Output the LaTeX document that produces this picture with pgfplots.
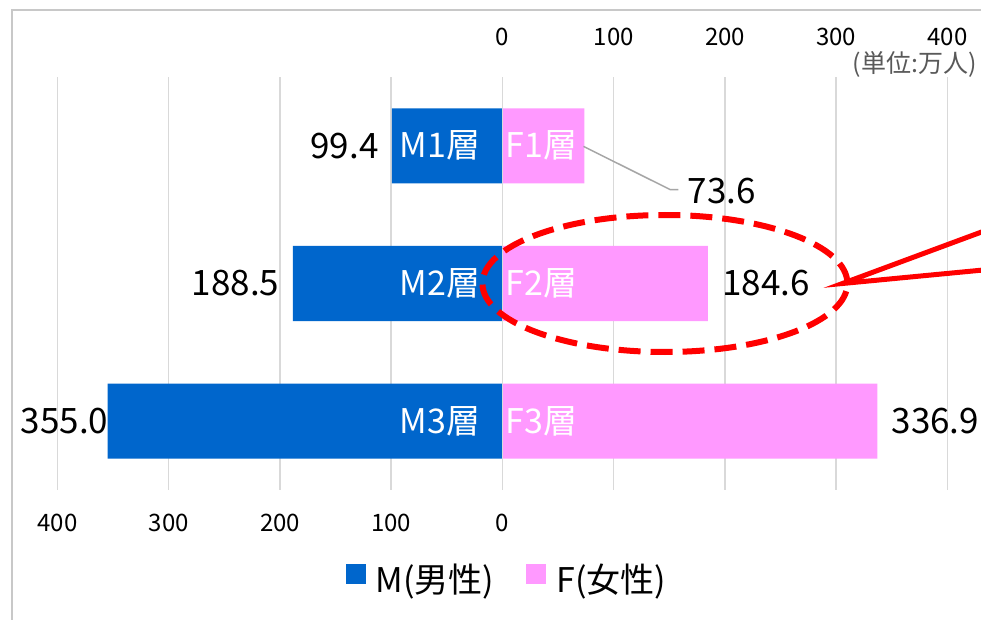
\documentclass[border=0pt]{standalone}
\usepackage{pgfplots}
\pgfplotsset{compat=1.18}
\usepackage{pgfplotstable}
\usepackage{fontspec}
\setmainfont{Noto Sans CJK JP}
\definecolor{mblue}{RGB}{0,102,204}
\definecolor{fpink}{RGB}{255,153,255}
\definecolor{gridgray}{RGB}{217,217,217}
\definecolor{framegray}{RGB}{200,200,200}
\definecolor{unitgray}{RGB}{89,89,89}
\definecolor{leadergray}{RGB}{166,166,166}

\pgfplotstableread{
cat male female
0 99.4 73.6
1 188.5 184.6
2 355.0 336.9
}\datatable

\begin{document}
\begin{tikzpicture}
\useasboundingbox (0,0) rectangle (490.5pt,310pt);
\clip (0,0) rectangle (490.5pt,310pt);
\fill[white] (0,0) rectangle (490.5pt,310pt);
\draw[framegray, line width=1pt] (6pt,-5pt) -- (6pt,305pt) -- (500pt,305pt);
\pgfplotsset{
  common/.style={
    at={(28.75pt,65pt)}, anchor=south west,
    scale only axis, width=445pt, height=206.5pt,
    xmin=-400, xmax=400, ymin=-0.5, ymax=2.5, y dir=reverse,
    axis line style={draw=none}, major tick length=0pt,
    ytick=\empty, xmajorgrids, grid style={gridgray, line width=0.75pt},
    /pgf/number format/assume math mode=true,
    tick label style={font=\fontsize{12}{14}\selectfont, text=black},
    clip=false,
  }
}
\begin{axis}[common, xtick={0,100,200,300,400}, xticklabel pos=top,
  xticklabel style={yshift=12pt}]
\addplot[draw=none, forget plot] coordinates {(0,0)};
\end{axis}
\begin{axis}[common, xtick={-400,-300,-200,-100,0}, xticklabels={400,300,200,100,0},
  xticklabel style={yshift=-8.5pt},
  legend style={at={(0.506,-0.218)}, anchor=center, draw=none, fill=none,
    font=\fontsize{17}{20}\selectfont,
    /tikz/every odd column/.append style={column sep=3pt},
    /tikz/every even column/.append style={column sep=14pt}},
  legend columns=2]
\addplot[xbar, bar width=37.5pt, bar shift=0pt, fill=mblue, draw=none,
  legend image code/.code={\fill[mblue] (0pt,-2pt) rectangle (10pt,8pt);}]
  table[y=cat, x expr=-\thisrow{male}] {\datatable};
\addlegendentry{M(男性)}
\addplot[xbar, bar width=37.5pt, bar shift=0pt, fill=fpink, draw=none,
  legend image code/.code={\fill[fpink] (0pt,-2pt) rectangle (10pt,8pt);}]
  table[y=cat, x=female] {\datatable};
\addlegendentry{F(女性)}
\draw[gridgray, line width=0.75pt] (axis cs:0,-0.5) -- (axis cs:0,2.5);
% category labels inside bars
\node[anchor=east, inner sep=0pt, xshift=-11pt, text=white, font=\fontsize{17}{20}\selectfont] at (axis cs:0,0) {M1層};
\node[anchor=east, inner sep=0pt, xshift=-11pt, text=white, font=\fontsize{17}{20}\selectfont] at (axis cs:0,1) {M2層};
\node[anchor=east, inner sep=0pt, xshift=-11pt, text=white, font=\fontsize{17}{20}\selectfont] at (axis cs:0,2) {M3層};
\node[anchor=west, inner sep=0pt, xshift=1.5pt, text=white, font=\fontsize{17}{20}\selectfont] at (axis cs:0,0) {F1層};
\node[anchor=west, inner sep=0pt, xshift=1.5pt, text=white, font=\fontsize{17}{20}\selectfont] at (axis cs:0,1) {F2層};
\node[anchor=west, inner sep=0pt, xshift=1.5pt, text=white, font=\fontsize{17}{20}\selectfont] at (axis cs:0,2) {F3層};
% value labels
\node[anchor=east, inner sep=0pt, xshift=-6.5pt, font=\fontsize{17.5}{20}\selectfont] at (axis cs:-99.4,0) {99.4};
\node[anchor=east, inner sep=0pt, xshift=-6.5pt, font=\fontsize{17.5}{20}\selectfont] at (axis cs:-188.5,1) {188.5};
\node[anchor=west, inner sep=0pt, font=\fontsize{17.5}{20}\selectfont] at (axis cs:-433.3,2) {355.0};
\node[anchor=west, inner sep=0pt, xshift=7pt, font=\fontsize{17.5}{20}\selectfont] at (axis cs:184.6,1) {184.6};
\node[anchor=west, inner sep=0pt, xshift=7pt, font=\fontsize{17.5}{20}\selectfont] at (axis cs:336.9,2) {336.9};
\draw[leadergray, line width=0.75pt] (axis cs:72.8,0.004) -- (axis cs:151,0.319) -- (axis cs:158.2,0.319);
\node[anchor=west, inner sep=0pt, font=\fontsize{17.5}{20}\selectfont] at (axis cs:166.3,0.33) {73.6};
% highlight
\draw[red, line width=3pt, dash pattern=on 11pt off 5pt] (axis cs:146,1) ellipse [x radius=91.25pt, y radius=34.25pt];
\draw[red, line width=2.5pt, line join=miter, miter limit=30] (axis cs:447.6,0.575) -- (axis cs:305.6,1) -- (axis cs:447.6,0.89);
\end{axis}
\node[anchor=east, inner sep=0pt, text=unitgray, font=\fontsize{12.5}{15}\selectfont] at (488.5pt,277.75pt) {(単位:万人)};
\end{tikzpicture}
\end{document}
